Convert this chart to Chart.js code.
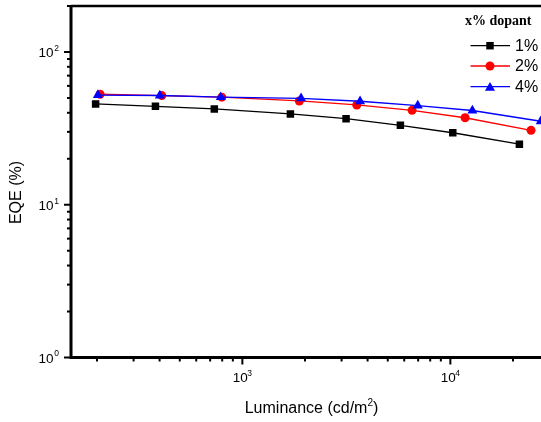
<!DOCTYPE html>
<html>
<head>
<meta charset="utf-8">
<script src="https://cdn.jsdelivr.net/npm/chart.js"></script>
<style>
  html, body { margin: 0; padding: 0; background: #fff; overflow: hidden; }
  canvas { display: block; }
</style>
</head>
<body>
<canvas id="eqeChart" width="560" height="422"></canvas>
<script>
// Series (luminance in cd/m2, EQE in %)
const seriesNames = ['1%', '2%', '4%'];
const lum1 = [197, 382, 733, 1702, 3152, 5750, 10270, 21470];
const eqe1 = [45.7, 44.1, 42.4, 39.3, 36.6, 33.1, 29.6, 24.9];
const lum2 = [207, 410, 796, 1879, 3548, 6546, 11770, 24430];
const eqe2 = [52.9, 51.8, 50.6, 47.8, 45.0, 41.5, 37.1, 30.7];
const lum4 = [202, 401, 787, 1915, 3680, 6970, 12760, 27200];
const eqe4 = [52.2, 51.9, 50.6, 49.7, 47.6, 44.6, 41.4, 35.2];

const xDecades = [2, 3, 4];
const yDecades = [0, 1, 2];
const xTickLabels = ['10', '10', '10'];
const yTickLabels = ['10', '10', '10'];

const colors = ['#000000', '#ff0000', '#0000ff'];
const markers = ['rect', 'circle', 'triangle'];
const markerSizes = [5.3, 4.5, 5.8];

function toPoints(xs, ys) {
    return xs.map((x, i) => ({ x: x, y: ys[i] }));
}

const seriesData = [toPoints(lum1, eqe1), toPoints(lum2, eqe2), toPoints(lum4, eqe4)];

const SANS = '"Liberation Sans", Arial, sans-serif';
const SERIF = '"Liberation Serif", "Times New Roman", serif';

// Frame, log ticks, tick labels with superscripts, axis titles
const axesPlugin = {
    id: 'originAxes',
    afterDraw(chart) {
        const ctx = chart.ctx;
        const a = chart.chartArea;
        const xs = chart.scales.x;
        const ys = chart.scales.y;
        ctx.save();
        ctx.strokeStyle = '#000';
        ctx.fillStyle = '#000';

        // top border
        ctx.lineWidth = 2.5;
        ctx.beginPath();
        ctx.moveTo(a.left, a.top);
        ctx.lineTo(chart.width, a.top);
        ctx.stroke();

        // left and bottom axes
        ctx.lineWidth = 3;
        ctx.beginPath();
        ctx.moveTo(a.left, a.top - 1);
        ctx.lineTo(a.left, a.bottom);
        ctx.lineTo(chart.width, a.bottom);
        ctx.stroke();

        // y ticks
        ctx.lineWidth = 2;
        for (let k = -1; k <= 3; k++) {
            for (let d = 1; d <= 9; d++) {
                const v = d * Math.pow(10, k);
                if (v < ys.min - 1e-9 || v > ys.max + 1e-9) continue;
                const py = ys.getPixelForValue(v);
                const len = d === 1 ? 7 : 4;
                ctx.beginPath();
                ctx.moveTo(a.left - len, py);
                ctx.lineTo(a.left, py);
                ctx.stroke();
            }
        }
        // x ticks
        for (let k = 1; k <= 5; k++) {
            for (let d = 1; d <= 9; d++) {
                const v = d * Math.pow(10, k);
                if (v < xs.min || v > xs.max) continue;
                const px = xs.getPixelForValue(v);
                const len = d === 1 ? 7 : 4;
                ctx.beginPath();
                ctx.moveTo(px, a.bottom);
                ctx.lineTo(px, a.bottom + len);
                ctx.stroke();
            }
        }

        // y tick labels
        ctx.textBaseline = 'middle';
        yDecades.forEach((k, i) => {
            const py = ys.getPixelForValue(Math.pow(10, k));
            ctx.font = '13.5px ' + SANS;
            ctx.textAlign = 'right';
            ctx.fillText(yTickLabels[i], 53.5, py + 1.5);
            ctx.font = '8.5px ' + SANS;
            ctx.textAlign = 'left';
            ctx.fillText(String(k), 54.3, py - 3.5);
        });
        // x tick labels
        xDecades.forEach((k, i) => {
            const v = Math.pow(10, k);
            if (v < xs.min || v > xs.max) return;
            const px = xs.getPixelForValue(v);
            ctx.font = '13.5px ' + SANS;
            ctx.textAlign = 'center';
            ctx.fillText(xTickLabels[i], px - 2, 378.5);
            ctx.font = '8.5px ' + SANS;
            ctx.textAlign = 'left';
            ctx.fillText(String(k), px + 5, 374);
        });

        // axis titles
        ctx.font = '16px ' + SANS;
        ctx.textAlign = 'left';
        const main = 'Luminance (cd/m';
        const wMain = ctx.measureText(main).width;
        ctx.font = '10px ' + SANS;
        const wSup = ctx.measureText('2').width;
        ctx.font = '16px ' + SANS;
        const wEnd = ctx.measureText(')').width;
        const total = wMain + wSup + wEnd;
        let tx = 311.5 - total / 2;
        ctx.fillText(main, tx, 409);
        ctx.font = '10px ' + SANS;
        ctx.fillText('2', tx + wMain, 403);
        ctx.font = '16px ' + SANS;
        ctx.fillText(')', tx + wMain + wSup, 409);

        ctx.save();
        ctx.translate(17, 192.5);
        ctx.rotate(-Math.PI / 2);
        ctx.textAlign = 'center';
        ctx.fillText('EQE (%)', 0, 0);
        ctx.restore();

        // legend
        ctx.font = 'bold 14px ' + SERIF;
        ctx.textAlign = 'left';
        ctx.fillText('x% dopant', 465, 21);
        const rows = [45.7, 66, 86.7];
        seriesNames.forEach((name, i) => {
            const y = rows[i];
            ctx.strokeStyle = colors[i];
            ctx.lineWidth = 1.3;
            ctx.beginPath();
            ctx.moveTo(470.5, y);
            ctx.lineTo(510, y);
            ctx.stroke();
            ctx.fillStyle = colors[i];
            Chart.helpers.drawPoint(ctx, {
                pointStyle: markers[i],
                radius: markerSizes[i],
                borderWidth: 0,
                rotation: 0
            }, 490, y + (markers[i] === 'triangle' ? 1.2 : 0));
            ctx.fillStyle = '#000';
            ctx.font = '16px ' + SANS;
            ctx.fillText(name, 515, y + 0.5);
        });

        ctx.restore();
    }
};

new Chart(document.getElementById('eqeChart').getContext('2d'), {
    type: 'line',
    data: {
        datasets: seriesNames.map((name, i) => ({
            label: name,
            data: seriesData[i],
            borderColor: colors[i],
            backgroundColor: colors[i],
            borderWidth: 1.3,
            pointStyle: markers[i],
            pointRadius: markerSizes[i],
            pointBorderWidth: 0,
            pointBackgroundColor: colors[i],
            tension: 0,
            fill: false,
            order: 3 - i
        }))
    },
    options: {
        responsive: false,
        animation: false,
        events: [],
        layout: {
            padding: { left: 71, top: 6, bottom: 64.5, right: 10.4 }
        },
        scales: {
            x: { type: 'logarithmic', min: 150, max: 30000, display: false },
            y: { type: 'logarithmic', min: 1, max: 200, display: false }
        },
        plugins: {
            legend: { display: false },
            tooltip: { enabled: false }
        }
    },
    plugins: [axesPlugin]
});
</script>
</body>
</html>
